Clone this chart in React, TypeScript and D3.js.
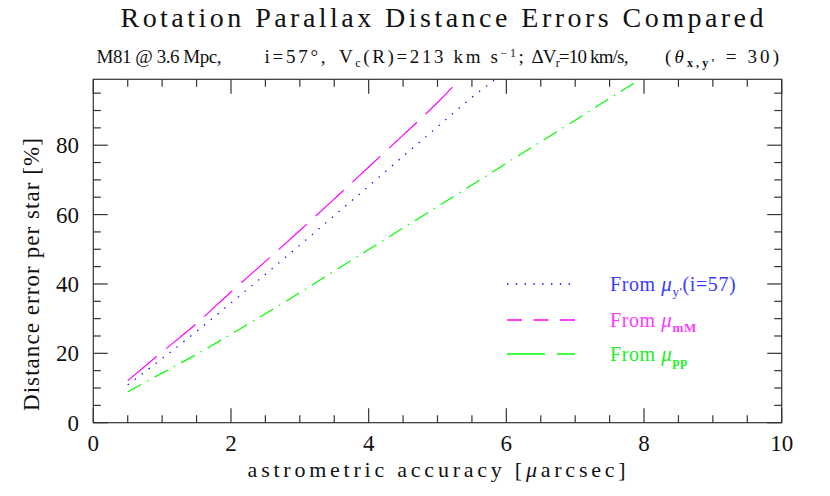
import React from 'react';
import * as d3 from 'd3';

// ---- data ----
const blueX = [0.5, 1, 1.5, 2, 2.5, 3, 3.5, 4, 4.5, 5, 5.5, 5.82];
const blueY = [10.9, 18.5, 26.3, 34.5, 42.8, 51.2, 59.7, 68.2, 76.8, 85.3, 93.8, 98.7];

const magentaX = [0.5, 1, 1.5, 2, 2.5, 3, 3.5, 4, 4.5, 5, 5.3];
const magentaY = [12.1, 20.4, 28.6, 37.7, 46.5, 55.4, 64.5, 73.7, 82.9, 92.3, 98.5];

const greenX = [0.5, 1, 1.5, 2, 2.5, 3, 3.5, 4, 4.5, 5, 5.5, 6, 6.5, 7, 7.5, 7.92];
const greenY = [8.9, 14.3, 19.7, 25.5, 31.4, 37.5, 43.7, 49.9, 56.1, 62.3, 68.5, 74.8, 81.0, 87.2, 93.5, 98.7];

const xMajorTicks = [0, 2, 4, 6, 8, 10];
const yMajorTicks = [0, 20, 40, 60, 80];
const xDomain = [0, 10];
const yDomain = [0, 99];

const W = 830;
const H = 496;
const L = 93.3, R = 781.7, T = 79.3, B = 422.7;

const FONT = '"Liberation Serif", "DejaVu Serif", serif';

export default function App() {
  const x = d3.scaleLinear().domain(xDomain).range([L, R]);
  const y = d3.scaleLinear().domain(yDomain).range([B, T]);

  const line = d3
    .line<[number, number]>()
    .x((d) => x(d[0]))
    .y((d) => y(d[1]))
    .curve(d3.curveMonotoneX);

  const zip = (a: number[], b: number[]) => a.map((v, i) => [v, b[i]] as [number, number]);

  const xMinor = d3.range(0.5, 10, 0.5).filter((v) => Math.abs(v / 2 - Math.round(v / 2)) > 1e-6);
  const yMinor = d3.range(5, 99, 5).filter((v) => v % 20 !== 0);

  const majLen = 14.5;
  const minLen = 7.5;
  const tickColor = '#333';

  const series = [
    { d: zip(blueX, blueY), color: '#0000ff', dash: '1.4 7.4' },
    { d: zip(magentaX, magentaY), color: '#ff00ff', dash: '38 12' },
    { d: zip(greenX, greenY), color: '#00ff00', dash: '15.5 6.7 1.5 6.7' },
  ];

  const legend = [
    { y: 284, color: '#0000ff', dash: '1.4 7.4', text: '#3a3aff', mu: 'μ', sub: "y'", after: '(i=57)', subBold: false },
    { y: 320, color: '#ff00ff', dash: '15 11.5', text: '#ff3aff', mu: 'μ', sub: 'mM', after: '', subBold: true },
    { y: 354, color: '#00ff00', dash: '38 12 18 100', text: '#22ee22', mu: 'μ', sub: 'pp', after: '', subBold: true },
  ];

  return (
    <svg
      width={W}
      height={H}
      viewBox={`0 0 ${W} ${H}`}
      style={{ position: 'absolute', left: 0, top: 0, background: '#fff' }}
      fontFamily={FONT}
    >
      <defs>
        <clipPath id="plotClip">
          <rect x={L} y={T} width={R - L} height={B - T} />
        </clipPath>
      </defs>

      {/* Title */}
      <text x={120.5} y={27} fontSize={28} fill="#111" textLength={643} lengthAdjust="spacing">
        Rotation Parallax Distance Errors Compared
      </text>

      {/* Subtitle pieces */}
      <g fontSize={19} fill="#111">
        <text x={96.5} y={63} textLength={125} lengthAdjust="spacing">M81 @ 3.6 Mpc,</text>
        <text x={264.6} y={63} textLength={61} lengthAdjust="spacing">i=57°,</text>
        <text x={338.9} y={63} textLength={185} lengthAdjust="spacing">
          V<tspan fontSize={12} dy={4}>c</tspan>
          <tspan dy={-4}>(R)=213 km s</tspan>
          <tspan fontSize={12} dy={-6}>−1</tspan>
          <tspan dy={6}>;</tspan>
        </text>
        <text x={531.4} y={63} textLength={97} lengthAdjust="spacing">
          ΔV<tspan fontSize={12} dy={4}>r</tspan>
          <tspan dy={-4}>=10 km/s,</tspan>
        </text>
        <text x={665} y={63} style={{ whiteSpace: 'pre' }} textLength={114} lengthAdjust="spacing">
          (<tspan fontStyle="italic">θ</tspan>
          <tspan fontSize={12} dy={4} fontWeight="bold">x,y'</tspan>
          <tspan dy={-4}>{' = 30)'}</tspan>
        </text>
      </g>

      {/* Curves */}
      <g clipPath="url(#plotClip)">
        {series.map((s, i) => (
          <path key={i} d={line(s.d) || ''} fill="none" stroke={s.color} strokeWidth={1.2} strokeDasharray={s.dash} />
        ))}
      </g>

      {/* Frame */}
      <rect x={L} y={T} width={R - L} height={B - T} fill="none" stroke={tickColor} strokeWidth={1.2} />

      {/* ticks */}
      <g stroke={tickColor} strokeWidth={1.2}>
        {xMajorTicks.map((v) => (
          <g key={'xm' + v}>
            <line x1={x(v)} x2={x(v)} y1={B} y2={B - majLen} />
            <line x1={x(v)} x2={x(v)} y1={T} y2={T + majLen} />
          </g>
        ))}
        {xMinor.map((v) => (
          <g key={'xn' + v}>
            <line x1={x(v)} x2={x(v)} y1={B} y2={B - minLen} />
            <line x1={x(v)} x2={x(v)} y1={T} y2={T + minLen} />
          </g>
        ))}
        {yMajorTicks.map((v) => (
          <g key={'ym' + v}>
            <line x1={L} x2={L + majLen} y1={y(v)} y2={y(v)} />
            <line x1={R} x2={R - majLen} y1={y(v)} y2={y(v)} />
          </g>
        ))}
        {yMinor.map((v) => (
          <g key={'yn' + v}>
            <line x1={L} x2={L + minLen} y1={y(v)} y2={y(v)} />
            <line x1={R} x2={R - minLen} y1={y(v)} y2={y(v)} />
          </g>
        ))}
      </g>

      {/* Tick labels */}
      <g fontSize={23} fill="#111">
        {xMajorTicks.map((v) => (
          <text key={'xl' + v} x={x(v)} y={451} textAnchor="middle">
            {v}
          </text>
        ))}
        {yMajorTicks.map((v) => (
          <text key={'yl' + v} x={79} y={y(v) + 8} textAnchor="end">
            {v}
          </text>
        ))}
      </g>

      {/* Axis labels */}
      <text x={247.6} y={477} fontSize={22} fill="#111" textLength={378} lengthAdjust="spacing">
        astrometric accuracy [<tspan fontStyle="italic">μ</tspan>arcsec]
      </text>
      <text
        transform={`translate(38.5, 411) rotate(-90)`}
        x={0}
        y={0}
        fontSize={23}
        fill="#111"
        textLength={273}
        lengthAdjust="spacing"
      >
        Distance error per star [%]
      </text>

      {/* Legend */}
      {legend.map((l, i) => (
        <g key={'lg' + i}>
          <line x1={507} x2={575} y1={l.y} y2={l.y} stroke={l.color} strokeWidth={1.4} strokeDasharray={l.dash} />
          <text x={610} y={l.y + 7} fontSize={20} fill={l.text} letterSpacing={0.6}>
            From{' '}
            <tspan fontStyle="italic" fontSize={21}>{l.mu}</tspan>
            <tspan fontSize={13} dy={5} fontWeight={l.subBold ? 'bold' : 'normal'}>
              {l.sub}
            </tspan>
            {l.after ? <tspan dy={-5}>{l.after}</tspan> : null}
          </text>
        </g>
      ))}
    </svg>
  );
}
